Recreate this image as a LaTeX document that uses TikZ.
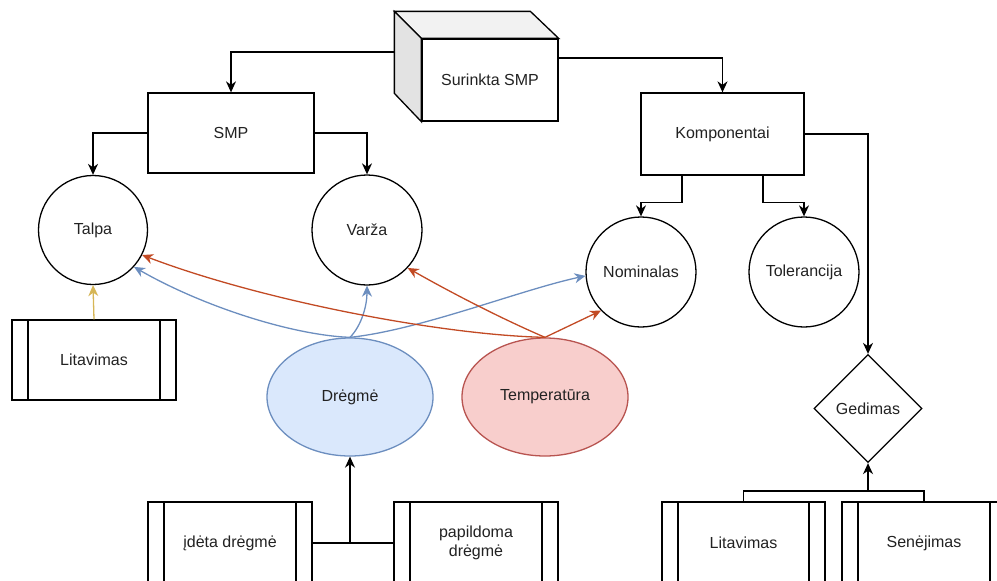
\documentclass[tikz,border=0pt]{standalone}
\usepackage{fontspec}
\setmainfont{Liberation Sans}
\usetikzlibrary{shapes.geometric,arrows.meta}

\definecolor{txt}{HTML}{222222}
\definecolor{bluefill}{HTML}{DAE8FC}
\definecolor{bluestroke}{HTML}{6C8EBF}
\definecolor{redfill}{HTML}{F8CECC}
\definecolor{redstroke}{HTML}{B85450}
\definecolor{redarrow}{HTML}{C24A24}
\definecolor{yellowarrow}{HTML}{D6B656}

\tikzset{
  base/.style={line width=1.3pt, text=txt, font=\fontsize{16}{18.5}\selectfont, align=center, inner sep=0pt},
  boxnode/.style={base, draw, rectangle, fill=white},
  circ/.style={base, draw, circle, minimum size=110pt},
  procbox/.style={boxnode, minimum width=164pt, minimum height=82pt,
    path picture={
      \draw[line width=1.3pt] ([xshift=16pt]path picture bounding box.north west) -- ([xshift=16pt]path picture bounding box.south west);
      \draw[line width=1.3pt] ([xshift=-16pt]path picture bounding box.north east) -- ([xshift=-16pt]path picture bounding box.south east);
    }},
  blob/.style={base, draw, ellipse, minimum width=166pt, minimum height=118pt},
  arr/.style={line width=1.3pt, -{Stealth[length=11pt,width=10pt,inset=3.5pt]}},
  link/.style={line width=1.3pt},
}

\begin{document}
\begin{tikzpicture}[x=1pt,y=-1pt]
\path[use as bounding box] (0,0) rectangle (997,581);

% 3D box holding the assembled board
\node[boxnode, minimum width=136pt, minimum height=82pt] (cube) at (490,80) {Surinkta SMP};
\filldraw[line width=1.3pt, fill=gray!10] (cube.north west) -- ++(-27,-27) -- ++(136,0) -- (cube.north east) -- cycle;
\filldraw[line width=1.3pt, fill=gray!22] (cube.north west) -- ++(-27,-27) -- ++(0,82) -- (cube.south west) -- cycle;
\coordinate (cubeL) at (395,52);

% second level
\node[boxnode, minimum width=166pt, minimum height=80pt] (smp) at (231,133) {SMP};
\node[boxnode, minimum width=163pt, minimum height=82pt] (komp) at (722.5,134) {Komponentai};

% properties
\node[circ, minimum size=109pt] (talpa) at (93,230) {Talpa};
\node[circ] (varza) at (367,230) {Varža};
\node[circ] (nom) at (641,272) {Nominalas};
\node[circ] (tol) at (804,272) {Tolerancija};

% influences
\node[procbox, minimum height=80pt] (lit1) at (94,360) {Litavimas};
\node[blob, fill=bluefill, draw=bluestroke] (dreg) at (350,397) {Drėgmė};
\node[blob, fill=redfill, draw=redstroke] (temp) at (545,397) {Temperatūra};
\node[base, draw, diamond, minimum width=108pt, minimum height=108pt, fill=white] (ged) at (868,408.5) {Gedimas};

% bottom row
\node[procbox] (idet) at (230,543) {įdėta drėgmė};
\node[procbox] (pap) at (476,543) {papildoma\\drėgmė};
\node[procbox, minimum width=163pt] (lit2) at (743.5,543) {Litavimas};
\node[procbox] (sen) at (924,543) {Senėjimas};

% tree connectors
\draw[arr] (cubeL) -| (smp.north);
\draw[arr] ([yshift=22pt]cube.east) -| (komp.north);
\draw[arr] (smp.west) -| (talpa.north);
\draw[arr] (smp.east) -| (varza.north);
\draw[arr] ([xshift=-40.5pt]komp.south) -- ++(0,27) -| (nom.north);
\draw[arr] ([xshift=40.5pt]komp.south) -- ++(0,27) -| (tol.north);
\draw[arr] (komp.east) -| (ged.north);

% soldering affects capacitance
\draw[arr, draw=yellowarrow] (lit1.north) -- (talpa.south);

% moisture sources
\draw[link] (idet.east) -- (pap.west);
\draw[arr] (idet.east -| dreg.south) -- (dreg.south);

% failure causes
\coordinate (gjoin) at (868,491);
\draw[link] (lit2.north) |- (gjoin) -| (sen.north);
\draw[arr] (gjoin) -- (ged.south);

% humidity influence
\draw[arr, draw=bluestroke] (dreg.north) .. controls (290,335) and (200,305) .. (talpa.-42);
\draw[arr, draw=bluestroke] (dreg.north) .. controls (362,325) and (367,305) .. (varza.south);
\draw[arr, draw=bluestroke] (dreg.north) .. controls (420,330) and (520,290) .. (nom.184);

% temperature influence
\draw[arr, draw=redarrow] (temp.north) .. controls (440,335) and (260,300) .. (talpa.-27);
\draw[arr, draw=redarrow] (temp.north) .. controls (500,318) and (450,292) .. (varza.-43);
\draw[arr, draw=redarrow] (temp.north) -- (nom.224);
\end{tikzpicture}
\end{document}
